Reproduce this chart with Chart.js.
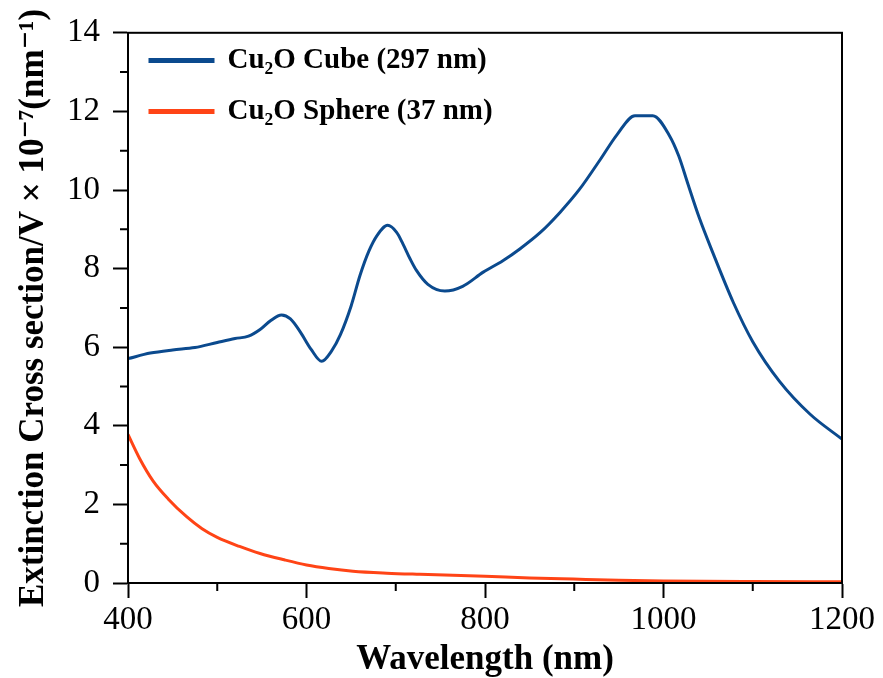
<!DOCTYPE html>
<html>
<head>
<meta charset="utf-8">
<script src="https://cdn.jsdelivr.net/npm/chart.js@4.4.1/dist/chart.umd.min.js"></script>
<style>
  html, body { margin: 0; padding: 0; background: #fff; }
  #wrap { width: 883px; height: 678px; }
</style>
</head>
<body>
<div id="wrap"><canvas id="ext" width="883" height="678"></canvas></div>
<script>
// ─── Data ─────────────────────────────────────────────────
const cubeWl = [400, 425, 450, 475, 500, 520, 535, 548, 560, 572, 582, 593, 605, 617, 628, 638, 650, 660, 670, 679, 691, 701, 708, 716, 723, 736, 755, 775, 798, 820, 839, 862, 884, 906, 929, 948, 968, 988, 1007, 1017, 1027, 1040, 1055, 1078, 1100, 1130, 1164, 1200];
const cubeVal = [5.71, 5.85, 5.93, 5.99, 6.12, 6.22, 6.28, 6.45, 6.68, 6.82, 6.72, 6.39, 5.95, 5.64, 5.90, 6.32, 7.05, 7.83, 8.45, 8.84, 9.10, 8.92, 8.63, 8.25, 7.96, 7.6, 7.43, 7.55, 7.91, 8.20, 8.50, 8.92, 9.43, 10.02, 10.77, 11.41, 11.89, 11.89, 11.37, 10.87, 10.18, 9.3, 8.42, 7.15, 6.14, 5.13, 4.30, 3.66];

const sphereWl = [400, 413, 428, 445, 466, 483, 500, 525, 548, 575, 600, 625, 652, 690, 727, 800, 850, 899, 950, 1000, 1100, 1200];
const sphereVal = [3.78, 3.17, 2.60, 2.14, 1.68, 1.38, 1.16, 0.93, 0.75, 0.59, 0.46, 0.37, 0.30, 0.25, 0.22, 0.17, 0.13, 0.10, 0.07, 0.05, 0.035, 0.03];

const seriesNames = ['Cu\u2082O Cube (297 nm)', 'Cu\u2082O Sphere (37 nm)'];
const xMinorTicks = [500, 700, 900, 1100];
const yMinorTicks = [1, 3, 5, 7, 9, 11, 13];

const SERIF = '"Liberation Serif", "Times New Roman", "DejaVu Serif", serif';

// minor ticks + closed frame
const framePlugin = {
  id: 'frame',
  afterDraw(chart) {
    const { ctx, chartArea: a, scales } = chart;
    ctx.save();
    ctx.strokeStyle = '#000';
    ctx.lineWidth = 2;
    ctx.strokeRect(a.left, a.top, a.right - a.left, a.bottom - a.top);
    ctx.beginPath();
    xMinorTicks.forEach(v => {
      const px = scales.x.getPixelForValue(v);
      ctx.moveTo(px, a.bottom);
      ctx.lineTo(px, a.bottom + 8);
    });
    yMinorTicks.forEach(v => {
      const py = scales.y.getPixelForValue(v);
      ctx.moveTo(a.left, py);
      ctx.lineTo(a.left - 8, py);
    });
    ctx.stroke();
    ctx.restore();
  }
};

const toPoints = (xs, ys) => xs.map((x, i) => ({ x, y: ys[i] }));

new Chart(document.getElementById('ext'), {
  type: 'line',
  data: {
    datasets: [
      {
        label: seriesNames[0],
        data: toPoints(cubeWl, cubeVal),
        borderColor: '#0b4a8e',
        backgroundColor: '#0b4a8e',
        borderWidth: 3,
        pointRadius: 0,
        cubicInterpolationMode: 'monotone',
      },
      {
        label: seriesNames[1],
        data: toPoints(sphereWl, sphereVal),
        borderColor: '#ff4416',
        backgroundColor: '#ff4416',
        borderWidth: 3,
        pointRadius: 0,
        cubicInterpolationMode: 'monotone',
      },
    ],
  },
  options: {
    responsive: false,
    animation: false,
    layout: { padding: { left: 0, top: 29, right: 41, bottom: 0 } },
    plugins: {
      legend: {
        position: 'chartArea',
        align: 'start',
        title: { display: true, text: '', padding: { top: 0, bottom: 12 }, font: { size: 10 } },
        labels: {
          boxWidth: 63,
          boxHeight: 2,
          padding: 22,
          color: '#000',
          font: { family: SERIF, size: 29, weight: 'bold' },
        },
      },
      tooltip: { enabled: false },
    },
    scales: {
      x: {
        type: 'linear',
        min: 400,
        max: 1200,
        afterFit: s => { s.height = 95; },
        ticks: { stepSize: 200, padding: 3, color: '#000', font: { family: SERIF, size: 33 }, callback: v => String(v) },
        grid: { drawOnChartArea: false, tickLength: 15, tickWidth: 2, tickColor: '#000' },
        border: { color: '#000', width: 2 },
        title: {
          display: true,
          text: 'Wavelength (nm)',
          color: '#000',
          padding: { top: 0, bottom: -3 },
          font: { family: SERIF, size: 35, weight: 'bold' },
        },
      },
      y: {
        min: 0,
        max: 14,
        afterFit: s => { s.width = 128; },
        ticks: { stepSize: 2, padding: 13, color: '#000', font: { family: SERIF, size: 33 }, callback: v => String(v) },
        grid: { drawOnChartArea: false, tickLength: 15, tickWidth: 2, tickColor: '#000' },
        border: { color: '#000', width: 2 },
        title: {
          display: true,
          text: 'Extinction Cross section/V \u00d7 10\u207b\u2077(nm\u207b\u00b9)',
          color: '#000',
          padding: { top: 13, bottom: 0 },
          font: { family: SERIF, size: 35, weight: 'bold' },
        },
      },
    },
  },
  plugins: [framePlugin],
});
</script>
</body>
</html>
